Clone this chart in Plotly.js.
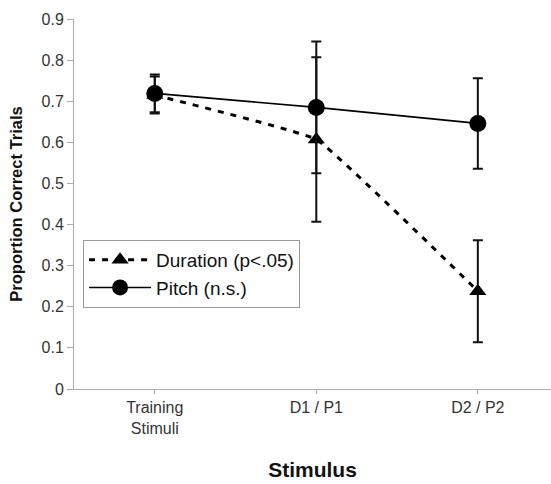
<!DOCTYPE html>
<html>
<head>
<meta charset="utf-8">
<script src="https://cdn.plot.ly/plotly-3.0.1.min.js"></script>
<style>body{margin:0;padding:0;background:#fff}#chart{width:551px;height:484px}</style>
</head>
<body>
<div id="chart"></div>
<script>
var categories = ["Training<br>Stimuli", "D1 / P1", "D2 / P2"];
var durationValues = [0.715, 0.607, 0.238];
var durationErrors = [0.045, 0.20, 0.124];
var pitchValues = [0.719, 0.685, 0.646];
var pitchErrors = [0.046, 0.16, 0.11];
var yTickValues = [0, 0.1, 0.2, 0.3, 0.4, 0.5, 0.6, 0.7, 0.8, 0.9];
var yTickLabels = ["0", "0.1", "0.2", "0.3", "0.4", "0.5", "0.6", "0.7", "0.8", "0.9"];

var idx = categories.map(function(c, i){ return i; });

var traces = [
  {
    x: idx, y: durationValues, name: "Duration (p<.05)", mode: "lines+markers", type: "scatter",
    legendgroup: "dur",
    line: {color: "#000", width: 3, dash: "6px,7px", shape: "spline", smoothing: 0.25},
    marker: {symbol: "triangle-up", size: 15, color: "#000"},
    error_y: {type: "data", array: durationErrors, visible: true, color: "#111", thickness: 2, width: 5}
  },
  {
    x: idx, y: pitchValues, name: "Pitch (n.s.)", mode: "lines+markers", type: "scatter",
    legendgroup: "pit",
    line: {color: "#000", width: 1.6},
    marker: {symbol: "circle", size: 17, color: "#000"},
    error_y: {type: "data", array: pitchErrors, visible: true, color: "#111", thickness: 2, width: 5}
  }
];

var layout = {
  width: 551, height: 484,
  margin: {l: 74, r: 0, t: 19, b: 95},
  paper_bgcolor: "#fff", plot_bgcolor: "#fff",
  font: {family: "Liberation Sans, Arial, sans-serif", color: "#222", size: 16},
  showlegend: true,
  legend: {
    x: 0.019, y: 0.403, xanchor: "left", yanchor: "top",
    bordercolor: "#999", borderwidth: 1, bgcolor: "#fff",
    font: {size: 19, color: "#111"}, tracegroupgap: 0, itemwidth: 62
  },
  xaxis: {
    range: [-0.5, 2.453], tickvals: idx, ticktext: categories,
    tickmode: "array", showgrid: false, zeroline: false,
    showline: true, linecolor: "#aaa", linewidth: 1,
    ticks: "outside", tickson: "boundaries", ticklen: 4, tickcolor: "#aaa",
    tickfont: {size: 16, color: "#333"},
    title: {text: "<b>Stimulus</b>", font: {size: 21, color: "#111"}, standoff: 26}
  },
  yaxis: {
    range: [0, 0.9], tickvals: yTickValues, ticktext: yTickLabels, tickmode: "array",
    showgrid: false, zeroline: false, showline: true, linecolor: "#aaa", linewidth: 1,
    ticks: "outside", ticklen: 6, tickcolor: "#aaa",
    tickfont: {size: 16, color: "#333"},
    title: {text: "<b>Proportion Correct Trials</b>", font: {size: 16.5, color: "#111"}, standoff: 14}
  }
};

Plotly.newPlot("chart", traces, layout, {displayModeBar: false, staticPlot: true});
</script>
</body>
</html>
